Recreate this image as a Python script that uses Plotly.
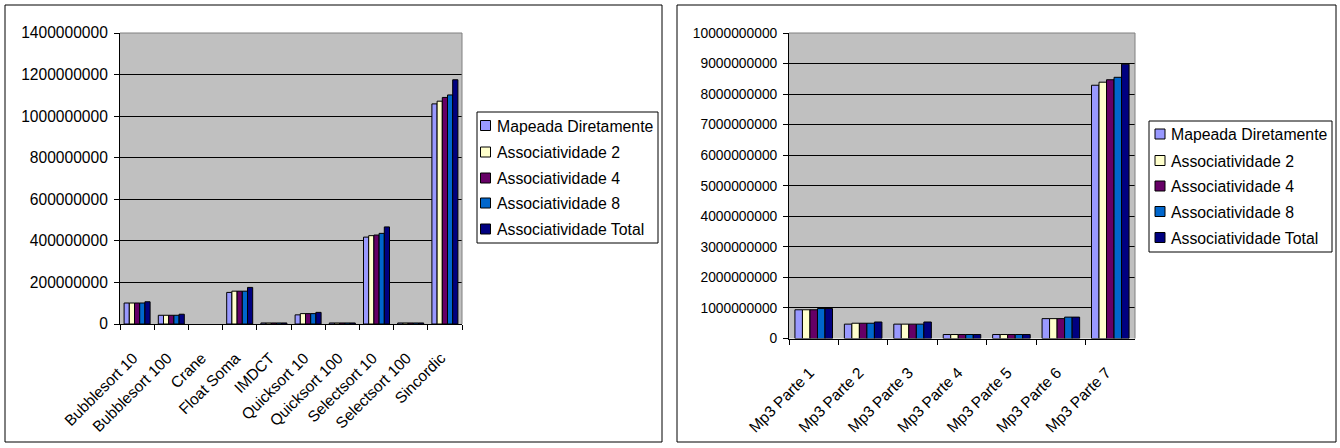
import plotly.graph_objects as go

# ---- data -------------------------------------------------------------
series_names = [
    "Mapeada Diretamente",
    "Associatividade 2",
    "Associatividade 4",
    "Associatividade 8",
    "Associatividade Total",
]

bench_categories = [
    "Bubblesort 10", "Bubblesort 100", "Crane", "Float Soma", "IMDCT",
    "Quicksort 10", "Quicksort 100", "Selectsort 10", "Selectsort 100", "Sincordic",
]
# Crane has no measurable value in this run
bench_mapeada = [101e6, 42e6, None, 152e6, 5e6, 44e6, 5e6, 418e6, 5e6, 1059e6]
bench_assoc2 = [101e6, 42e6, None, 158e6, 5e6, 50e6, 5e6, 425e6, 5e6, 1072e6]
bench_assoc4 = [101e6, 42e6, None, 158e6, 5e6, 50e6, 5e6, 428e6, 5e6, 1090e6]
bench_assoc8 = [101e6, 42e6, None, 158e6, 5e6, 50e6, 5e6, 436e6, 5e6, 1102e6]
bench_total = [107e6, 47e6, None, 176e6, 5e6, 56e6, 5e6, 467e6, 5e6, 1175e6]

mp3_categories = [
    "Mp3 Parte 1", "Mp3 Parte 2", "Mp3 Parte 3", "Mp3 Parte 4",
    "Mp3 Parte 5", "Mp3 Parte 6", "Mp3 Parte 7",
]
mp3_mapeada = [0.94e9, 0.47e9, 0.47e9, 0.13e9, 0.13e9, 0.65e9, 8.29e9]
mp3_assoc2 = [0.94e9, 0.50e9, 0.47e9, 0.13e9, 0.13e9, 0.65e9, 8.39e9]
mp3_assoc4 = [0.94e9, 0.50e9, 0.47e9, 0.13e9, 0.13e9, 0.65e9, 8.47e9]
mp3_assoc8 = [0.98e9, 0.50e9, 0.47e9, 0.13e9, 0.13e9, 0.70e9, 8.55e9]
mp3_total = [0.98e9, 0.54e9, 0.54e9, 0.13e9, 0.13e9, 0.70e9, 8.98e9]

bench_ticks = [0, 200e6, 400e6, 600e6, 800e6, 1000e6, 1200e6, 1400e6]
mp3_ticks = [i * 1e9 for i in range(11)]

# ---- styling ----------------------------------------------------------
W, H = 1340, 448
colors = ["#9999FF", "#FFFFCC", "#660066", "#0066CC", "#000080"]
FONT = "Liberation Sans, Arial, sans-serif"


def px(x):
    return x / W


def py(y):
    return 1 - y / H


fig = go.Figure()

bench_series = [bench_mapeada, bench_assoc2, bench_assoc4, bench_assoc8, bench_total]
mp3_series = [mp3_mapeada, mp3_assoc2, mp3_assoc4, mp3_assoc8, mp3_total]

for name, vals, col in zip(series_names, bench_series, colors):
    fig.add_trace(go.Bar(
        x=bench_categories, y=vals, name=name, showlegend=False,
        marker=dict(color=col, line=dict(color="black", width=1)),
        xaxis="x", yaxis="y",
    ))

for name, vals, col in zip(series_names, mp3_series, colors):
    fig.add_trace(go.Bar(
        x=mp3_categories, y=vals, name=name, showlegend=False,
        marker=dict(color=col, line=dict(color="black", width=1)),
        xaxis="x2", yaxis="y2",
    ))

# plot-area rectangles (pixels: left, top, right, bottom)
left_area = (120, 33, 462, 324)
right_area = (789, 33, 1135, 338.5)


def xaxis_cfg(area, fsize):
    return dict(
        domain=[px(area[0]), px(area[2])],
        type="category", automargin=False,
        showline=True, linecolor="black", linewidth=1,
        ticks="outside", tickson="boundaries", ticklen=5, tickcolor="black",
        tickangle=-45, ticklabelstandoff=18, ticklabelshift=-4,
        tickfont=dict(family=FONT, size=fsize, color="black"),
        showgrid=False, zeroline=False, fixedrange=True,
    )


def yaxis_cfg(area, ticks, fsize, anchor):
    return dict(
        domain=[py(area[3]), py(area[1])],
        anchor=anchor, automargin=False,
        range=[0, ticks[-1]],
        tickmode="array", tickvals=ticks,
        ticktext=[f"{int(t)}" for t in ticks],
        showline=True, linecolor="black", linewidth=1,
        ticks="outside", ticklen=5, tickcolor="black",
        ticklabelstandoff=3,
        tickfont=dict(family=FONT, size=fsize, color="black"),
        showgrid=True, gridcolor="black", gridwidth=1,
        zeroline=False, fixedrange=True,
    )


fig.update_layout(
    template="none",
    width=W, height=H,
    margin=dict(l=0, r=0, t=0, b=0, autoexpand=False),
    paper_bgcolor="white",
    plot_bgcolor="#C0C0C0",
    barmode="group", bargap=0.24, bargroupgap=0,
    showlegend=False,
    xaxis=xaxis_cfg(left_area, 15.5) | dict(anchor="y"),
    yaxis=yaxis_cfg(left_area, bench_ticks, 15.6, "x"),
    xaxis2=xaxis_cfg(right_area, 15.5) | dict(anchor="y2"),
    yaxis2=yaxis_cfg(right_area, mp3_ticks, 13.8, "x2"),
)

shapes = []
annotations = []

# outer chart frames
for (x0, x1) in [(5, 662), (677, 1336)]:
    shapes.append(dict(type="rect", xref="paper", yref="paper",
                       x0=px(x0), x1=px(x1), y0=py(442), y1=py(5),
                       line=dict(color="black", width=1), fillcolor="rgba(0,0,0,0)",
                       layer="below"))

# grey top/right edges of each plot area
for (l, t, r, b) in [left_area, right_area]:
    shapes.append(dict(type="line", xref="paper", yref="paper",
                       x0=px(l), x1=px(r), y0=py(t), y1=py(t),
                       line=dict(color="#808080", width=1), layer="above"))
    shapes.append(dict(type="line", xref="paper", yref="paper",
                       x0=px(r), x1=px(r), y0=py(t), y1=py(b),
                       line=dict(color="#808080", width=1), layer="above"))


# legend boxes with swatches and labels
def add_legend(box, sym_x, text_x, centers):
    x0, y0, x1, y1 = box
    shapes.append(dict(type="rect", xref="paper", yref="paper",
                       x0=px(x0), x1=px(x1), y0=py(y1), y1=py(y0),
                       line=dict(color="black", width=1), fillcolor="white",
                       layer="above"))
    for name, col, cy in zip(series_names, colors, centers):
        shapes.append(dict(type="rect", xref="paper", yref="paper",
                           x0=px(sym_x), x1=px(sym_x + 10),
                           y0=py(cy + 5), y1=py(cy - 5),
                           line=dict(color="black", width=1), fillcolor=col,
                           layer="above"))
        annotations.append(dict(xref="paper", yref="paper",
                                x=px(text_x), y=py(cy + 0.5),
                                xanchor="left", yanchor="middle",
                                text=name, showarrow=False,
                                font=dict(family=FONT, size=15.8, color="black")))


add_legend((477, 112, 658, 243), 480.5, 495, [125.5, 152, 178, 203, 229])
add_legend((1149, 121, 1332, 252), 1155, 1169, [134, 160.5, 186, 211.5, 237.5])

fig.update_layout(shapes=shapes, annotations=annotations)

fig.write_html("out.html")
